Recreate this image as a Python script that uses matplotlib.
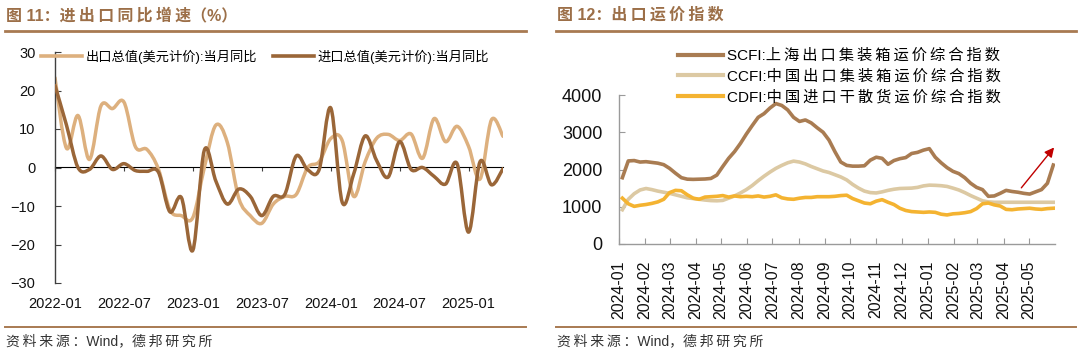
import numpy as np
import pandas as pd
import matplotlib
matplotlib.use("Agg")
import matplotlib.pyplot as plt
import matplotlib.dates as mdates
from matplotlib.path import Path
from matplotlib.patches import PathPatch
from matplotlib.lines import Line2D

plt.rcParams['font.family'] = ['Liberation Sans', 'Noto Sans CJK SC', 'DejaVu Sans']

# ---------------- Left chart data (monthly, 2022-01 .. 2025-04) ----------------
months_left = pd.period_range('2022-01', '2025-04', freq='M').strftime('%Y-%m').tolist()
export_yoy = [23.3, 5.0, 13.5, 2.1, 16.0, 15.3, 17.0, 5.4, 4.7, -0.4, -11.0, -12.5,
              -13.0, 0.0, 11.0, 6.5, -8.0, -12.5, -14.5, -9.5, -7.5, -7.0, 0.0, 1.5,
              7.5, 7.0, -7.5, 1.5, 7.6, 8.6, 7.0, 8.7, 2.4, 12.7, 6.7, 10.7,
              5.5, -3.0, 12.4, 8.1]
import_yoy = [21.3, 11.0, 0.0, -0.5, 3.0, -0.5, 1.0, -0.8, -1.0, -1.2, -11.5, -7.8,
              -21.5, 4.5, -3.5, -9.5, -5.6, -7.5, -12.5, -7.5, -7.0, 3.0, -0.6, -0.5,
              15.5, -9.0, -1.7, 8.2, 1.8, -2.5, 6.7, -0.5, 0.0, -2.3, -4.3, 1.0,
              -16.8, 1.5, -4.5, -0.3]
left_ticklabels = ['2022-01', '2022-07', '2023-01', '2023-07', '2024-01', '2024-07', '2025-01']
left_labels = ['出口总值(美元计价):当月同比', '进口总值(美元计价):当月同比']

# ---------------- Right chart data (weekly, 2024-01-05 .. 2025-05-30) ----------------
weeks = pd.date_range('2024-01-05', '2025-05-30', freq='W-FRI')
scfi = [1780, 2230, 2240, 2200,
        2210, 2190, 2170, 2130,
        2030, 1900, 1780, 1740, 1735,
        1740, 1745, 1760, 1850,
        2080, 2300, 2480, 2700, 2950,
        3180, 3400, 3500, 3650,
        3770, 3720, 3600, 3400,
        3290, 3330, 3250, 3120, 3000,
        2790, 2480, 2200, 2110,
        2090, 2090, 2100, 2250,
        2330, 2300, 2140, 2240, 2290,
        2320, 2430, 2460, 2520,
        2560, 2330, 2180, 2050, 1950,
        1890, 1780, 1630, 1520,
        1460, 1280, 1290, 1360,
        1440, 1410, 1390, 1360,
        1340, 1400, 1460, 1630, 2120]
ccfi = [920, 1200, 1350, 1450,
        1490, 1460, 1420, 1390,
        1360, 1320, 1280, 1240, 1220,
        1200, 1180, 1165, 1160,
        1170, 1230, 1290, 1370, 1460,
        1570, 1700, 1820, 1930,
        2030, 2110, 2180, 2225,
        2200, 2150, 2080, 2020, 1960,
        1920, 1860, 1800, 1720,
        1600, 1500, 1420, 1380,
        1370, 1400, 1440, 1470, 1490,
        1495, 1500, 1520, 1560,
        1580, 1575, 1565, 1545, 1500,
        1450, 1380, 1300, 1230,
        1160, 1130, 1120, 1120,
        1120, 1120, 1120, 1120,
        1120, 1120, 1120, 1120, 1120]
cdfi = [1230, 1080, 1010, 1040,
        1060, 1090, 1130, 1200,
        1380, 1440, 1430, 1320, 1230,
        1200, 1260, 1270, 1280,
        1300, 1260, 1290, 1270, 1280,
        1270, 1290, 1260, 1280,
        1320, 1240, 1210, 1200,
        1230, 1250, 1250, 1270, 1270,
        1270, 1280, 1300, 1310,
        1220, 1160, 1100, 1080,
        1150, 1190, 1120, 1060, 960,
        900, 870, 860, 850,
        860, 850, 800, 780, 810,
        820, 840, 870, 950,
        1080, 1100, 1050, 1020,
        930, 920, 940, 950,
        960, 940, 930, 950, 960]
right_labels = ['SCFI:上海出口集装箱运价综合指数', 'CCFI:中国出口集装箱运价综合指数',
                'CDFI:中国进口干散货运价综合指数']

# ---------------- style ----------------
W, H = 1080, 354
BROWN_T = '#9C6F48'
RULE = '#A87A52'
C_EXP = '#DDB07E'
C_IMP = '#9A6638'
C_SCFI = '#A97C52'
C_CCFI = '#DCC9A3'
C_CDFI = '#F4B331'
AX_DARK = '#404040'
AX_GRAY = '#9A9A9A'
THIN = '\u2009'


def spaced(s):
    """Add a thin space after each CJK character (wide letter-spacing of the original)."""
    out = []
    for i, ch in enumerate(s):
        out.append(ch)
        if ord(ch) > 0x2E80 and i < len(s) - 1:
            out.append(THIN)
    return ''.join(out)


def fx(px):
    return px / W


def fy(py):
    return 1 - py / H


def smooth_path(xs, ys):
    """Excel-like smoothed line through the data points (Catmull-Rom as Bezier)."""
    xs = np.asarray(xs, float)
    ys = np.asarray(ys, float)
    n = len(xs)
    verts = [(xs[0], ys[0])]
    codes = [Path.MOVETO]
    for i in range(n - 1):
        p0 = np.array([xs[max(i - 1, 0)], ys[max(i - 1, 0)]])
        p1 = np.array([xs[i], ys[i]])
        p2 = np.array([xs[i + 1], ys[i + 1]])
        p3 = np.array([xs[min(i + 2, n - 1)], ys[min(i + 2, n - 1)]])
        c1 = p1 + (p2 - p0) / 6.0
        c2 = p2 - (p3 - p1) / 6.0
        verts += [tuple(c1), tuple(c2), tuple(p2)]
        codes += [Path.CURVE4] * 3
    return Path(verts, codes)


fig = plt.figure(figsize=(W / 100, H / 100), dpi=100)

# titles and rules
fig.text(fx(6), fy(15), '图 11：' + spaced('进出口同比增速') + '（%）', fontsize=11.5,
         fontweight='bold', color=BROWN_T, ha='left', va='center')
fig.text(fx(557), fy(15), '图 12：' + spaced('出口运价指数'), fontsize=11.5,
         fontweight='bold', color=BROWN_T, ha='left', va='center')
for x0, x1 in [(5, 526), (556, 1076)]:
    fig.add_artist(Line2D([fx(x0), fx(x1)], [fy(31), fy(31)], color=RULE, lw=2.0))
    fig.add_artist(Line2D([fx(x0), fx(x1)], [fy(327), fy(327)], color=RULE, lw=1.4))
    fig.text(fx(x0 + 1), fy(341), spaced('资料来源：') + 'Wind，' + spaced('德邦研究所'),
             fontsize=10, color='#333333', ha='left', va='center')

# ---------------- Left chart ----------------
axL = fig.add_axes([fx(55), fy(283), fx(503) - fx(55), fy(52) - fy(283)])
xl = np.arange(len(months_left))
for vals, col, z in [(export_yoy, C_EXP, 2), (import_yoy, C_IMP, 3)]:
    patch = PathPatch(smooth_path(xl, vals), fill=False, edgecolor=col, lw=2.5,
                      capstyle='round', joinstyle='round', zorder=z)
    axL.add_patch(patch)
axL.set_xlim(0, len(months_left) - 1)
axL.set_ylim(-30, 30)
axL.set_yticks([-30, -20, -10, 0, 10, 20, 30])
tick_pos = [months_left.index(t) for t in left_ticklabels]
axL.set_xticks(tick_pos)
axL.set_xticklabels(left_ticklabels, fontsize=10.5)
axL.tick_params(axis='x', length=0, pad=10, colors='#111111')
axL.tick_params(axis='y', direction='in', length=4, color=AX_DARK, labelsize=10.5,
                pad=14, labelcolor='#111111')
for s in ['top', 'right', 'bottom']:
    axL.spines[s].set_visible(False)
axL.spines['left'].set_color(AX_DARK)
axL.spines['left'].set_linewidth(1.0)
sec = axL.secondary_xaxis(0.5)
sec.set_xticks(tick_pos)
sec.set_xticklabels([])
sec.tick_params(direction='in', length=3, color=AX_DARK)
sec.spines['bottom'].set_color(AX_DARK)
sec.spines['bottom'].set_linewidth(1.0)
axL.patch.set_alpha(0)

hL = [Line2D([], [], color=C_EXP, lw=2.6), Line2D([], [], color=C_IMP, lw=2.6)]
fig.legend(hL, left_labels, loc='center', bbox_to_anchor=(fx(265), fy(57)), ncol=2,
           frameon=False, fontsize=9.5, handlelength=3.1, handletextpad=0.3,
           columnspacing=1.2, borderpad=0)

# ---------------- Right chart ----------------
axR = fig.add_axes([fx(619), fy(244), fx(1055) - fx(619), fy(95) - fy(244)])
axR.plot(weeks, scfi, color=C_SCFI, lw=2.6, solid_joinstyle='round', zorder=3)
axR.plot(weeks, ccfi, color=C_CCFI, lw=2.6, solid_joinstyle='round', zorder=2)
axR.plot(weeks, cdfi, color=C_CDFI, lw=2.6, solid_joinstyle='round', zorder=4)
axR.set_ylim(0, 4000)
axR.set_yticks([0, 1000, 2000, 3000, 4000])
axR.set_xlim(pd.Timestamp('2024-01-01'), pd.Timestamp('2025-06-01'))
axR.xaxis.set_major_locator(mdates.MonthLocator())
axR.xaxis.set_major_formatter(mdates.DateFormatter('%Y-%m'))
ticks = [t for t in axR.get_xticks() if t < mdates.date2num(pd.Timestamp('2025-05-15'))]
axR.set_xticks(ticks)
axR.tick_params(axis='x', direction='in', length=4, color=AX_GRAY, labelsize=11.5,
                labelrotation=90, pad=12, labelcolor='#111111')
axR.tick_params(axis='y', direction='in', length=4, color=AX_GRAY, labelsize=13,
                pad=12, labelcolor='#111111')
for s in ['top', 'right']:
    axR.spines[s].set_visible(False)
for s in ['left', 'bottom']:
    axR.spines[s].set_color(AX_GRAY)
    axR.spines[s].set_linewidth(1.0)
axR.patch.set_alpha(0)

axR.annotate('', xy=(pd.Timestamp('2025-06-02'), 2650), xytext=(pd.Timestamp('2025-04-20'), 1450),
             arrowprops=dict(arrowstyle='-|>', color='#C00000', lw=1.0, mutation_scale=14),
             annotation_clip=False)

hR = [Line2D([], [], color=c, lw=3) for c in (C_SCFI, C_CCFI, C_CDFI)]
fig.legend(hR, [lab.split(':')[0] + ':' + spaced(lab.split(':')[1]) for lab in right_labels],
           loc='upper left', bbox_to_anchor=(fx(670), fy(41)), ncol=1,
           frameon=False, fontsize=11, handlelength=3.0, handletextpad=0.2,
           labelspacing=0.42, borderpad=0)

fig.savefig('out.png', dpi=100)
